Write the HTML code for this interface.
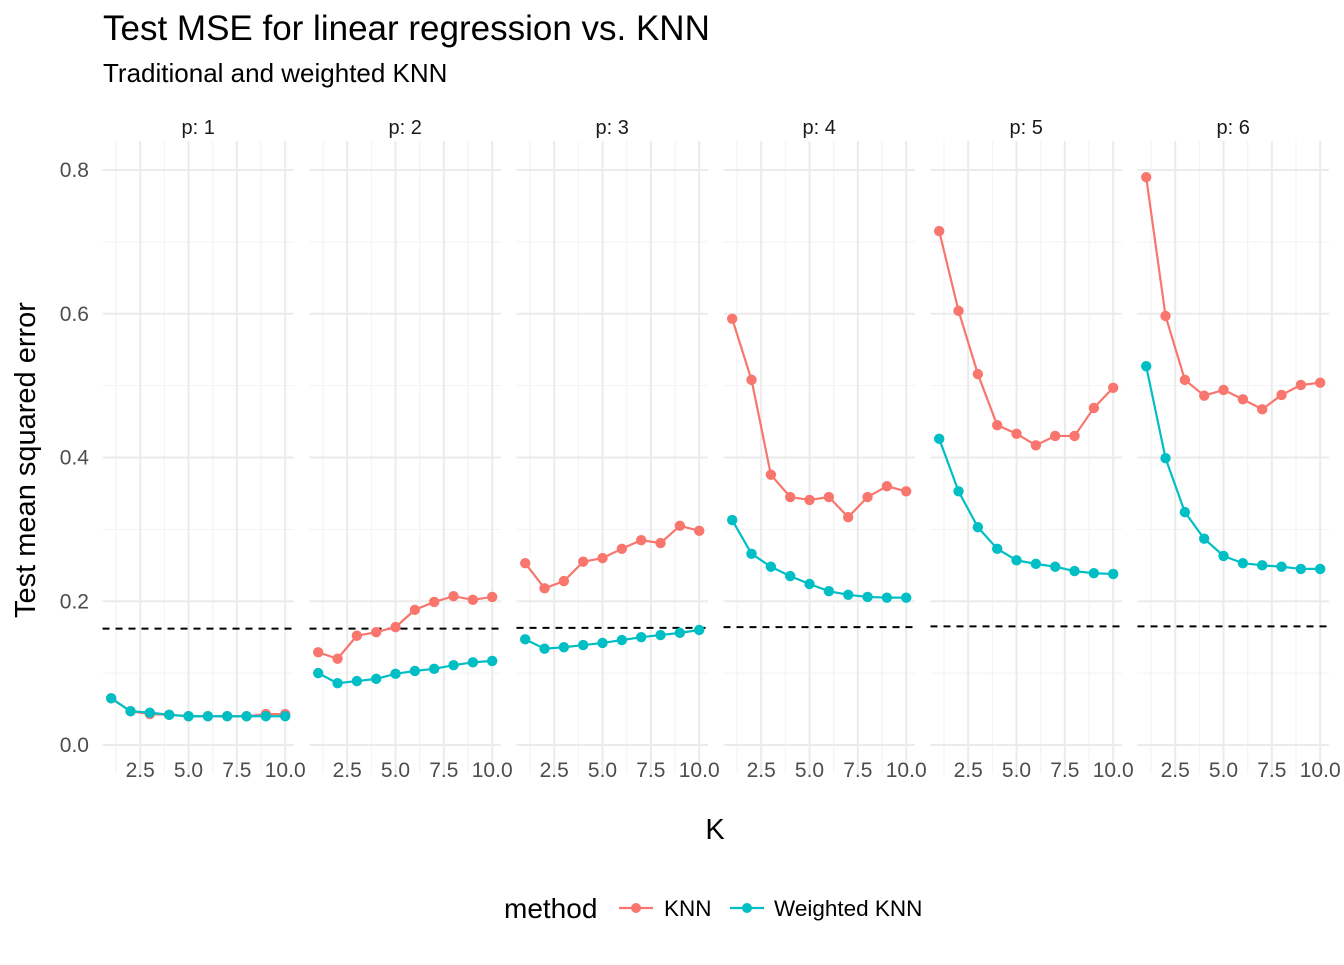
<!DOCTYPE html>
<html><head><meta charset="utf-8"><style>
body{margin:0;background:#fff}
svg text{font-family:"Liberation Sans",Arial,sans-serif}
</style></head><body>
<svg id="chart" width="1344" height="960" xmlns="http://www.w3.org/2000/svg">
<text x="103" y="40" font-size="35" fill="#000">Test MSE for linear regression vs. KNN</text>
<text x="103" y="82" font-size="26" fill="#000">Traditional and weighted KNN</text>
<text transform="translate(35,460) rotate(-90)" text-anchor="middle" font-size="29" fill="#000">Test mean squared error</text>
<text x="715" y="839" text-anchor="middle" font-size="29" fill="#000">K</text>
<g id="panels"></g>
<g>
<text x="504" y="918" font-size="28" fill="#000">method</text>
<g><line x1="619" y1="908" x2="653" y2="908" stroke="#F8766D" stroke-width="2.2"/><circle cx="636" cy="908" r="5" fill="#F8766D"/><text x="664" y="916" font-size="22.5" fill="#000">KNN</text></g>
<g><line x1="730" y1="908" x2="764" y2="908" stroke="#00BFC4" stroke-width="2.2"/><circle cx="747" cy="908" r="5" fill="#00BFC4"/><text x="774" y="916" font-size="22.5" fill="#000">Weighted KNN</text></g>
</g>
</svg>
<script>
const ks=[1,2,3,4,5,6,7,8,9,10];
const pLabels=["p: 1","p: 2","p: 3","p: 4","p: 5","p: 6"];
const knn=[
[0.065,0.047,0.043,0.042,0.040,0.040,0.040,0.040,0.043,0.043],
[0.129,0.120,0.152,0.157,0.164,0.188,0.199,0.207,0.202,0.206],
[0.253,0.218,0.228,0.255,0.260,0.273,0.285,0.281,0.305,0.298],
[0.593,0.508,0.376,0.345,0.341,0.345,0.317,0.345,0.360,0.353],
[0.715,0.604,0.516,0.445,0.433,0.417,0.430,0.430,0.469,0.497],
[0.790,0.597,0.508,0.486,0.494,0.481,0.467,0.487,0.501,0.504]];
const wknn=[
[0.065,0.047,0.045,0.042,0.040,0.040,0.040,0.040,0.040,0.040],
[0.100,0.086,0.089,0.092,0.099,0.103,0.106,0.111,0.115,0.117],
[0.147,0.134,0.136,0.139,0.142,0.146,0.150,0.153,0.156,0.160],
[0.313,0.266,0.248,0.235,0.224,0.214,0.209,0.206,0.205,0.205],
[0.426,0.353,0.303,0.273,0.257,0.252,0.248,0.242,0.239,0.238],
[0.527,0.399,0.324,0.287,0.263,0.253,0.250,0.248,0.245,0.245]];
const lmMse=[0.162,0.162,0.163,0.164,0.165,0.165];
const yTicks=[0,0.2,0.4,0.6,0.8];
const yTickLabels=["0.0","0.2","0.4","0.6","0.8"];
const xTicks=[2.5,5,7.5,10];
const xTickLabels=["2.5","5.0","7.5","10.0"];

const NS="http://www.w3.org/2000/svg";
const gPanels=document.getElementById("panels");
function mk(t,a,p){const e=document.createElementNS(NS,t);for(const k in a)e.setAttribute(k,a[k]);(p||gPanels).appendChild(e);return e;}
const pTop=141,pBot=774,pw=191.4,gap=15.6,left0=102.5;
const yS=v=>745-v*718.75;
for(let p=0;p<6;p++){
 const L=left0+p*(pw+gap);
 const xS=k=>L+(k-0.55)/9.9*pw;
 const pg=mk("g",{});
 
 
 [0.1,0.3,0.5,0.7].forEach(v=>mk("line",{x1:L,x2:L+pw,y1:yS(v),y2:yS(v),stroke:"#f2f2f2","stroke-width":1},pg));
 [1.25,3.75,6.25,8.75].forEach(v=>mk("line",{x1:xS(v),x2:xS(v),y1:pTop,y2:pBot,stroke:"#f2f2f2","stroke-width":1},pg));
 yTicks.forEach(v=>mk("line",{x1:L,x2:L+pw,y1:yS(v),y2:yS(v),stroke:"#ebebeb","stroke-width":2},pg));
 xTicks.forEach((v,i)=>{mk("line",{x1:xS(v),x2:xS(v),y1:pTop,y2:pBot,stroke:"#ebebeb","stroke-width":2},pg);
  const t=mk("text",{x:xS(v),y:777,"text-anchor":"middle","font-size":"21",fill:"#4d4d4d"},pg);t.textContent=xTickLabels[i];
  
  });
 const st=mk("text",{x:L+pw/2,y:134,"text-anchor":"middle","font-size":"20",fill:"#1a1a1a"},pg);st.textContent=pLabels[p];
 
 
 const dl=mk("line",{x1:L,x2:L+pw,y1:yS(lmMse[p]),y2:yS(lmMse[p]),stroke:"#000","stroke-width":2,"stroke-dasharray":"7,6"},pg);
 
 
 [[knn,"#F8766D","knn"],[wknn,"#00BFC4","weighted-knn"]].forEach(([d,c,n])=>{
  const pl=mk("polyline",{points:ks.map((k,i)=>xS(k)+","+yS(d[p][i])).join(" "),fill:"none",stroke:c,"stroke-width":2.2},pg);
  
  
  ks.forEach((k,i)=>{const c1=mk("circle",{cx:xS(k),cy:yS(d[p][i]),r:5.2,fill:c},pg);
   
   });
 });
}
yTicks.forEach((v,i)=>{const t=mk("text",{x:89,y:yS(v)+7,"text-anchor":"end","font-size":"21",fill:"#4d4d4d"});t.textContent=yTickLabels[i];
 
 });
</script>
</body></html>
